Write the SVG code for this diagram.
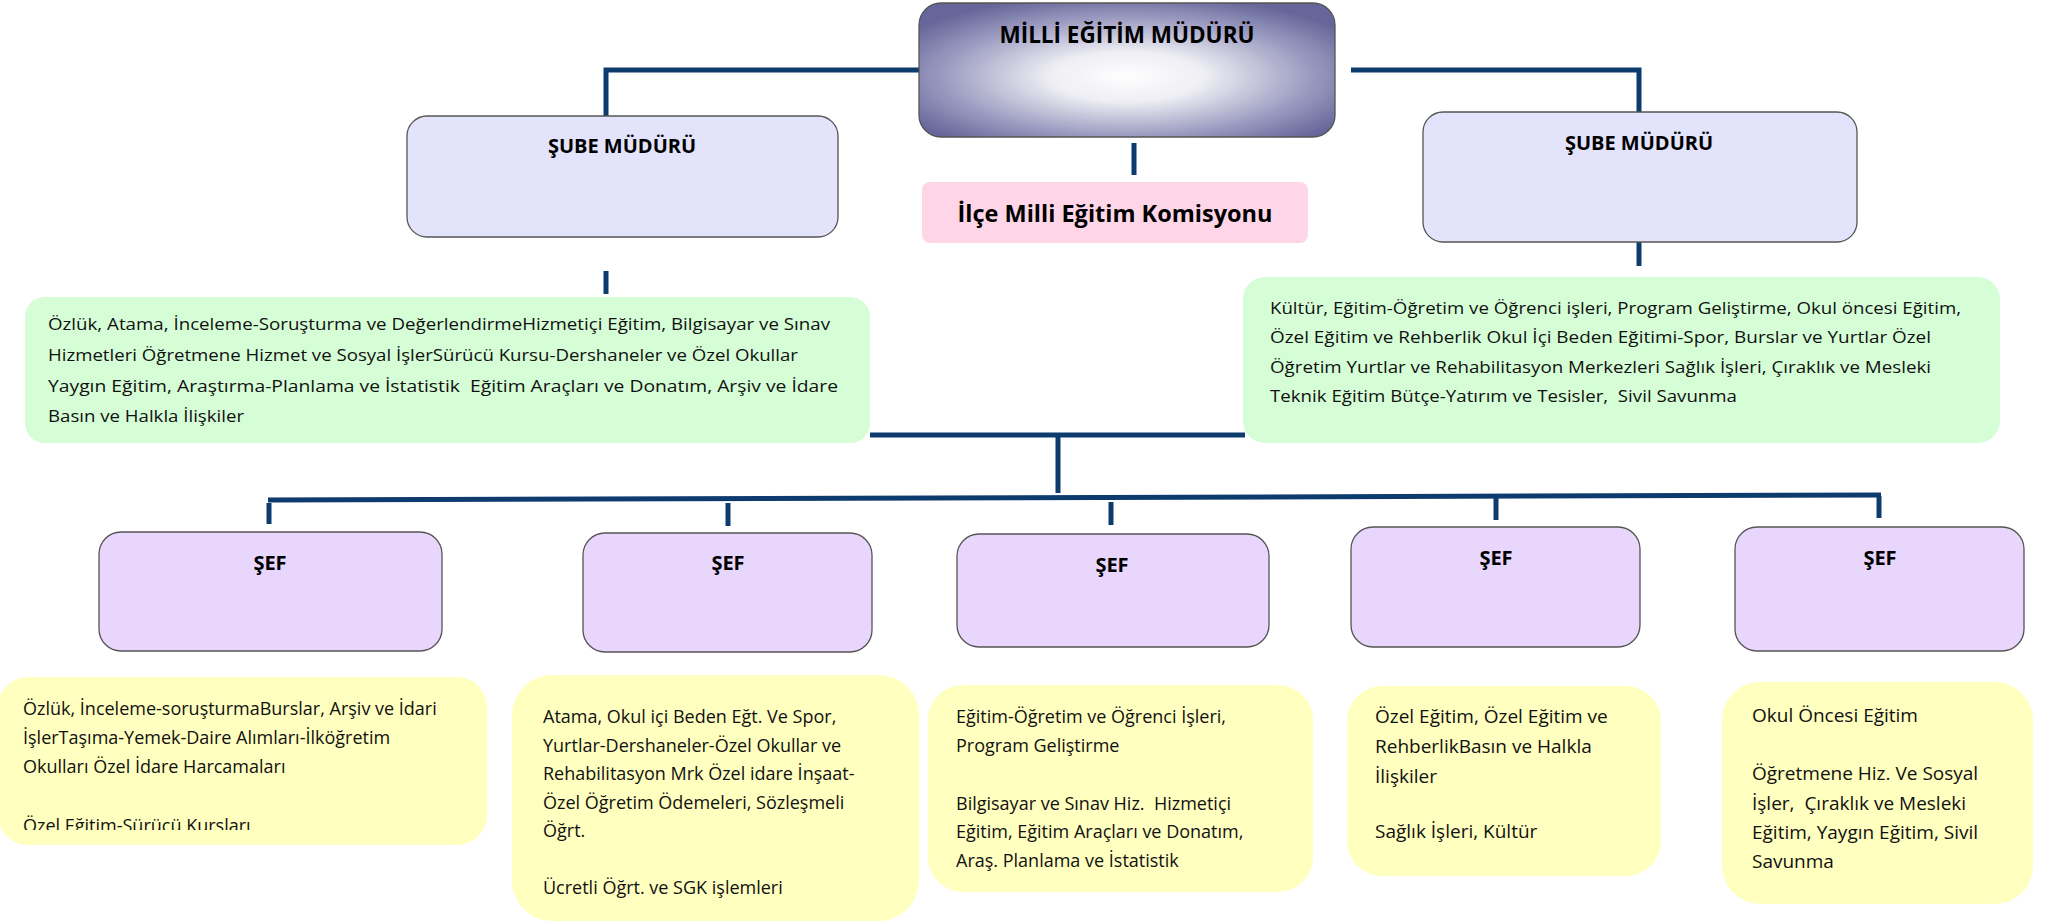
<svg xmlns="http://www.w3.org/2000/svg" width="2049" height="923" viewBox="0 0 2049 923">
<style>
.ln{stroke:#0d3b6e;stroke-width:5;fill:none;stroke-linecap:butt}
.sube{fill:#e3e3fc;stroke:#555;stroke-width:1.3}
.sef{fill:#e9d6fd;stroke:#555;stroke-width:1.3}
.grn{fill:#d6fed6}
.yel{fill:#ffffbf}
.t{font-family:"Open Sans","Noto Sans",sans-serif;fill:#111;font-size:18px}
.g{font-family:"Open Sans","Noto Sans",sans-serif;fill:#111;font-size:16.5px}
.h{font-family:"Open Sans","Noto Sans",sans-serif;fill:#111;font-size:19px}
.b{font-family:"Open Sans","Noto Sans",sans-serif;font-weight:bold;fill:#000;text-anchor:middle}
</style>
<defs>
<radialGradient id="topg" cx="0.5" cy="0.55" r="0.62">
<stop offset="0" stop-color="#ffffff"/>
<stop offset="0.3" stop-color="#eeeef4"/>
<stop offset="0.7" stop-color="#9d9dc2"/>
<stop offset="1" stop-color="#66669a"/>
</radialGradient>
<clipPath id="clip1"><rect x="0" y="677" width="487" height="153"/></clipPath>
</defs>
<rect width="2049" height="923" fill="#fff"/>

<g id="connectors">
<polyline class="ln" points="919,70 606,70 606,116"/>
<polyline class="ln" points="1351,70 1639,70 1639,112"/>
<line class="ln" x1="1134" y1="143" x2="1134" y2="175"/>
<line class="ln" x1="606" y1="271" x2="606" y2="294"/>
<line class="ln" x1="1639" y1="242" x2="1639" y2="266"/>
<line class="ln" x1="870" y1="435" x2="1245" y2="435"/>
<line class="ln" x1="1058" y1="435" x2="1058" y2="493"/>
<line class="ln" x1="268" y1="500" x2="1881" y2="495"/>
<line class="ln" x1="269" y1="503" x2="269" y2="524"/>
<line class="ln" x1="728" y1="503" x2="728" y2="526"/>
<line class="ln" x1="1111" y1="502" x2="1111" y2="525"/>
<line class="ln" x1="1496" y1="498" x2="1496" y2="520"/>
<line class="ln" x1="1879" y1="496" x2="1879" y2="518"/>
</g>

<g id="mudur">
<rect x="919" y="3" width="416" height="134" rx="22" fill="url(#topg)" stroke="#555" stroke-width="1.3"/>
<text class="b" x="1127" y="43" font-size="22.5">MİLLİ EĞİTİM MÜDÜRÜ</text>
</g>

<g id="komisyon">
<rect x="922" y="182" width="386" height="61" rx="8" fill="#ffd5e8"/>
<text class="b" x="1115" y="222" font-size="23.5">İlçe Milli Eğitim Komisyonu</text>
</g>

<g id="sube1">
<rect class="sube" x="407" y="116" width="431" height="121" rx="20"/>
<text class="b" x="622" y="153" font-size="20">ŞUBE MÜDÜRÜ</text>
</g>

<g id="sube2">
<rect class="sube" x="1423" y="112" width="434" height="130" rx="20"/>
<text class="b" x="1639" y="150" font-size="20">ŞUBE MÜDÜRÜ</text>
</g>

<g id="gorev-sol">
<rect class="grn" x="25" y="297" width="845" height="146" rx="20"/>
<text class="g" x="48" y="330" textLength="782" lengthAdjust="spacingAndGlyphs">Özlük, Atama, İnceleme-Soruşturma ve DeğerlendirmeHizmetiçi Eğitim, Bilgisayar ve Sınav</text>
<text class="g" x="48" y="361" textLength="750" lengthAdjust="spacingAndGlyphs">Hizmetleri Öğretmene Hizmet ve Sosyal İşlerSürücü Kursu-Dershaneler ve Özel Okullar</text>
<text class="g" x="48" y="392" textLength="790" lengthAdjust="spacingAndGlyphs" xml:space="preserve">Yaygın Eğitim, Araştırma-Planlama ve İstatistik  Eğitim Araçları ve Donatım, Arşiv ve İdare</text>
<text class="g" x="48" y="422" textLength="196" lengthAdjust="spacingAndGlyphs">Basın ve Halkla İlişkiler</text>
</g>

<g id="gorev-sag">
<rect class="grn" x="1243" y="277" width="757" height="166" rx="22"/>
<text class="g" x="1270" y="314" textLength="691" lengthAdjust="spacingAndGlyphs">Kültür, Eğitim-Öğretim ve Öğrenci işleri, Program Geliştirme, Okul öncesi Eğitim,</text>
<text class="g" x="1270" y="343" textLength="661" lengthAdjust="spacingAndGlyphs">Özel Eğitim ve Rehberlik Okul İçi Beden Eğitimi-Spor, Burslar ve Yurtlar Özel</text>
<text class="g" x="1270" y="373" textLength="661" lengthAdjust="spacingAndGlyphs">Öğretim Yurtlar ve Rehabilitasyon Merkezleri Sağlık İşleri, Çıraklık ve Mesleki</text>
<text class="g" x="1270" y="402" textLength="467" lengthAdjust="spacingAndGlyphs" xml:space="preserve">Teknik Eğitim Bütçe-Yatırım ve Tesisler,  Sivil Savunma</text>
</g>

<g id="sef1">
<rect class="sef" x="99" y="532" width="343" height="119" rx="22"/>
<text class="b" x="270" y="570" font-size="20">ŞEF</text>
</g>
<g id="sef2">
<rect class="sef" x="583" y="533" width="289" height="119" rx="22"/>
<text class="b" x="728" y="570" font-size="20">ŞEF</text>
</g>
<g id="sef3">
<rect class="sef" x="957" y="534" width="312" height="113" rx="22"/>
<text class="b" x="1112" y="572" font-size="20">ŞEF</text>
</g>
<g id="sef4">
<rect class="sef" x="1351" y="527" width="289" height="120" rx="22"/>
<text class="b" x="1496" y="565" font-size="20">ŞEF</text>
</g>
<g id="sef5">
<rect class="sef" x="1735" y="527" width="289" height="124" rx="22"/>
<text class="b" x="1880" y="565" font-size="20">ŞEF</text>
</g>

<g id="is1">
<rect class="yel" x="-2" y="677" width="489" height="168" rx="30"/>
<g clip-path="url(#clip1)">
<text class="t" x="23" y="715" font-size="19">Özlük, İnceleme-soruşturmaBurslar, Arşiv ve İdari</text>
<text class="t" x="23" y="744" font-size="19">İşlerTaşıma-Yemek-Daire Alımları-İlköğretim</text>
<text class="t" x="23" y="773" font-size="19">Okulları Özel İdare Harcamaları</text>
<text class="t" x="23" y="832" font-size="19">Özel Eğitim-Sürücü Kursları</text>
</g>
</g>

<g id="is2">
<rect class="yel" x="512" y="675" width="407" height="246" rx="40"/>
<text class="t" x="543" y="723">Atama, Okul içi Beden Eğt. Ve Spor,</text>
<text class="t" x="543" y="752">Yurtlar-Dershaneler-Özel Okullar ve</text>
<text class="t" x="543" y="780">Rehabilitasyon Mrk Özel idare İnşaat-</text>
<text class="t" x="543" y="809">Özel Öğretim Ödemeleri, Sözleşmeli</text>
<text class="t" x="543" y="837">Öğrt.</text>
<text class="t" x="543" y="894">Ücretli Öğrt. ve SGK işlemleri</text>
</g>

<g id="is3">
<rect class="yel" x="928" y="685" width="385" height="207" rx="35"/>
<text class="t" x="956" y="723">Eğitim-Öğretim ve Öğrenci İşleri,</text>
<text class="t" x="956" y="752">Program Geliştirme</text>
<text class="t" x="956" y="810" xml:space="preserve">Bilgisayar ve Sınav Hiz.  Hizmetiçi</text>
<text class="t" x="956" y="838">Eğitim, Eğitim Araçları ve Donatım,</text>
<text class="t" x="956" y="867">Araş. Planlama ve İstatistik</text>
</g>

<g id="is4">
<rect class="yel" x="1347" y="686" width="314" height="190" rx="35"/>
<text class="h" x="1375" y="723">Özel Eğitim, Özel Eğitim ve</text>
<text class="h" x="1375" y="753">RehberlikBasın ve Halkla</text>
<text class="h" x="1375" y="783">İlişkiler</text>
<text class="h" x="1375" y="838">Sağlık İşleri, Kültür</text>
</g>

<g id="is5">
<rect class="yel" x="1722" y="682" width="311" height="222" rx="38"/>
<text class="h" x="1752" y="722">Okul Öncesi Eğitim</text>
<text class="h" x="1752" y="780">Öğretmene Hiz. Ve Sosyal</text>
<text class="h" x="1752" y="810" xml:space="preserve">İşler,  Çıraklık ve Mesleki</text>
<text class="h" x="1752" y="839">Eğitim, Yaygın Eğitim, Sivil</text>
<text class="h" x="1752" y="868">Savunma</text>
</g>
</svg>
